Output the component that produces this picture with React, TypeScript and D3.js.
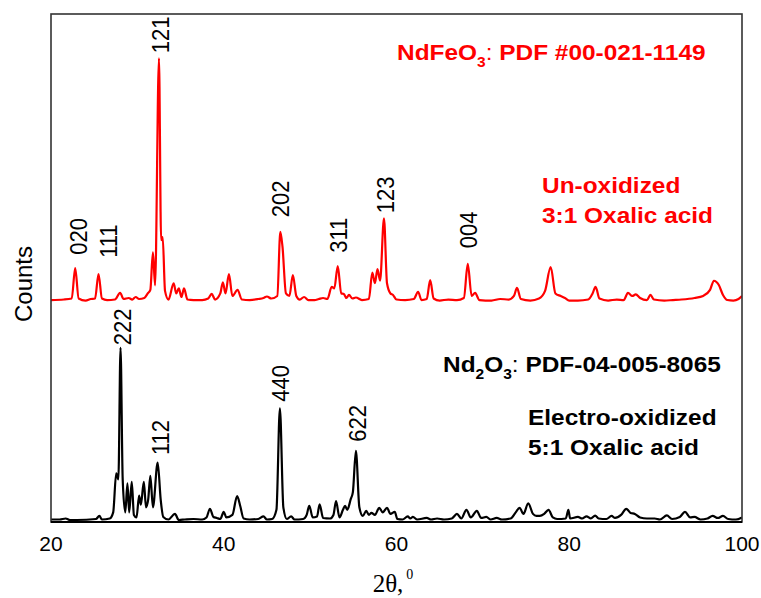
import React from "react";
import * as d3 from "d3";

// ---------- DATA ----------
// Un-oxidized (red) trace: [2θ, intensity above its own baseline]
const redTrace: [number, number][] = [
  [20, 0.2], [21.5, 0.3], [22.4, 0.5], [22.8, 6.5], [23.2, 0.5], [24, 0.1], [24.6, 0.4],
  [25.1, 0.5], [25.5, 5.3], [25.9, 0.5], [26.5, 0.2], [27.4, 0.3], [28.0, 1.6], [28.4, 0.4],
  [29, 0.6], [29.4, 0.3], [29.8, 0.8], [30.2, 0.4], [30.8, 0.6], [31.2, 1.5], [31.5, 2.2],
  [31.8, 9.6], [32.05, 3.1], [32.5, 47.8], [32.75, 12.0], [32.93, 12.6], [33.2, 2], [33.6, 0.3],
  [34.2, 3.5], [34.5, 1.5], [34.8, 2.5], [35.1, 0.8], [35.4, 2.5], [35.8, 0.3], [36.5, 0.2],
  [37.5, 0.2], [38.2, 0.5], [38.6, 1.4], [39.0, 0.3], [39.6, 1.5], [39.9, 3.7], [40.2, 1.5],
  [40.6, 5.3], [41.0, 1.0], [41.6, 2.2], [42.1, 0.3], [43, 0.2], [44, 0.4], [44.6, 0.6],
  [45.0, 0.9], [45.5, 0.5], [46.2, 1.0], [46.55, 13.6], [46.8, 10.7], [47.2, 1.5], [47.6, 1.0],
  [48.0, 5.1], [48.4, 1.0], [48.8, 0.3], [49.3, 0.8], [49.8, 0.2], [50.5, 0.2], [51, 0.4],
  [51.5, 0.6], [52.0, 0.4], [52.5, 2.8], [52.8, 2.5], [53.2, 6.9], [53.6, 1.5], [53.9, 1.4],
  [54.2, 0.6], [54.5, 1.2], [54.9, 0.5], [55.3, 0.7], [56, 0.2], [56.8, 0.4], [57.2, 5.6],
  [57.5, 3.5], [57.8, 6.3], [58.1, 4.0], [58.55, 16.3], [58.9, 3.5], [59.3, 1.5], [59.6, 1.2],
  [60.0, 0.3], [61, 0.2], [62.0, 0.4], [62.5, 1.8], [62.9, 0.2], [63.5, 0.4], [63.9, 4.1],
  [64.3, 0.5], [65, 0.1], [66, 0.3], [67, 0.2], [67.8, 0.6], [68.25, 7.3], [68.7, 1.0],
  [69.1, 1.6], [69.6, 0.2], [71, 0.1], [72, 0.4], [73.0, 0.3], [73.6, 1.0], [73.95, 2.6],
  [74.4, 0.4], [75.5, 0.1], [76.5, 0.5], [77.2, 2.0], [77.85, 6.7], [78.4, 1.5], [79.0, 1.0],
  [79.5, 0.6], [80, 0.1], [81, 0.1], [82.2, 0.3], [82.7, 1.5], [83.05, 2.8], [83.5, 0.5],
  [84.5, 0.1], [85.5, 0.3], [86.3, 0.2], [86.8, 1.6], [87.3, 1.0], [87.7, 1.3], [88.2, 0.6],
  [89, 0.2], [89.4, 1.2], [89.8, 0.3], [91, 0.1], [92, 0.2], [93, 0.3], [94.5, 0.6],
  [95.5, 1.0], [96.3, 2.2], [96.75, 4.0], [97.3, 3.2], [97.8, 1.2], [98.3, 0.2], [99, 0.1],
  [99.6, 0.4], [100, 1.0],
];
const redOffset = 43.1;

// Electro-oxidized (black) trace
const blackTrace: [number, number][] = [
  [20, 0.1], [21.0, 0.1], [21.7, 0.3], [22.2, 0.0], [23, 0], [25.2, 0.2], [25.6, 0.8],
  [25.9, 0.1], [26.8, 0.3], [27.2, 1.5], [27.55, 9.2], [27.8, 8], [28.05, 33.9], [28.3, 8],
  [28.6, 1.5], [28.85, 7.2], [29.05, 1.5], [29.35, 7.5], [29.6, 1.0], [29.9, 0.5], [30.2, 4.8],
  [30.4, 3], [30.75, 7.5], [31.0, 2.5], [31.25, 4], [31.5, 8.7], [31.8, 2.5], [32.35, 11.3],
  [32.7, 4], [33.0, 0.6], [33.6, 0.1], [34.35, 1.2], [34.8, 0], [35.5, 0.1], [36.5, 0.2],
  [37.5, 0.1], [38.0, 0.5], [38.4, 2.2], [38.8, 0.6], [39.2, 0.4], [39.6, 0.2], [40.0, 1.6],
  [40.3, 0.5], [41.0, 1.0], [41.55, 4.7], [41.9, 2.8], [42.3, 0.3], [43, 0.1], [44.0, 0.2],
  [44.6, 0.7], [45.0, 0.1], [45.6, 0.2], [46.1, 2.0], [46.5, 22], [46.9, 2.5], [47.3, 0.2],
  [47.8, 0.7], [48.2, 0.1], [49.2, 0.2], [49.6, 1.0], [49.9, 2.8], [50.3, 0.5], [50.8, 0.7],
  [51.1, 3.1], [51.5, 0.4], [52.3, 0.3], [52.7, 1.0], [53.0, 3.7], [53.4, 0.5], [53.8, 2.0],
  [54.05, 2.8], [54.3, 2.0], [54.7, 4.1], [54.95, 5.5], [55.3, 13.6], [55.7, 2.5], [56.1, 0.8],
  [56.5, 1.8], [56.8, 1.0], [57.1, 1.4], [57.5, 1.0], [58.0, 2.4], [58.4, 1.5], [58.9, 2.4],
  [59.3, 1.2], [59.8, 1.6], [60.1, 0.2], [60.7, 0.1], [61.3, 0.7], [61.6, 0.3], [61.9, 0.6],
  [62.4, 0.1], [63.5, 0.4], [64.0, 0.1], [64.7, 0.3], [65.5, 0.1], [66.4, 0.3], [67.0, 1.2],
  [67.5, 0.3], [68.1, 2.0], [68.6, 0.5], [69.3, 1.8], [69.8, 0.4], [70.4, 0.6], [70.9, 0.1],
  [71.6, 0.4], [72.2, 0.1], [73.2, 0.3], [73.8, 1.5], [74.25, 2.4], [74.7, 1.2], [75.25, 3.3],
  [75.8, 1.2], [76.2, 0.8], [76.6, 0.8], [77.1, 1.2], [77.6, 2.0], [78.1, 0.5], [78.6, 0.2],
  [79.6, 0.3], [79.9, 2.0], [80.1, 0.3], [81.0, 0.6], [81.5, 0.3], [82.0, 0.7], [82.5, 0.3],
  [83.0, 0.85], [83.4, 0.3], [84.3, 0.2], [84.9, 0.8], [85.3, 0.4], [86.0, 1.0], [86.6, 2.2],
  [87.1, 1.4], [87.6, 1.2], [88.2, 0.5], [89.0, 0.3], [89.9, 0.3], [90.5, 0.1], [91.3, 0.9],
  [91.9, 0.2], [92.8, 0.6], [93.4, 1.6], [94.0, 0.5], [94.5, 0.6], [95.2, 0.1], [96.0, 0.3],
  [96.6, 0.8], [97.2, 0.4], [97.8, 0.8], [98.4, 0.2], [99.3, 0.1], [100, 0.5],
];
const blackOffset = 0;

// Peak (hkl) labels: text, 2θ of label centre, count level of label bottom
const redLabels = ["020", "111", "121", "202", "311", "123", "004"];
const redLabelX = [23.16, 26.6, 32.62, 46.5, 53.2, 58.67, 68.28];
const redLabelY = [52.2, 51.6, 91.9, 59.6, 52.6, 60.4, 53.5];

const blackLabels = ["222", "112", "440", "622"];
const blackLabelX = [28.2, 32.7, 46.5, 55.4];
const blackLabelY = [34.4, 12.8, 23.3, 15.4];

const xTicks = [20, 40, 60, 80, 100];

// ---------- CHART ----------
const W = 761;
const H = 598;
const left = 51, right = 742, top = 14, bottom = 522;
const SX = 1.11; // horizontal stretch of the original figure's text

export default function App() {
  const x = d3.scaleLinear().domain([20, 100]).range([left, right]);
  const y = d3.scaleLinear().domain([0, 100]).range([520, 12]);

  const line = (off: number) =>
    d3
      .line<[number, number]>()
      .x((d) => x(d[0]))
      .y((d) => y(d[1] + off))
      .curve(d3.curveMonotoneX);

  const sans = "'Liberation Sans', Arial, Helvetica, sans-serif";
  const serif = "'Liberation Serif', 'Times New Roman', serif";

  const peakLabel = (t: string, px: number, py: number, key: string) => (
    <text
      key={key}
      transform={`translate(${x(px)},${y(py)}) scale(${SX},1) rotate(-90)`}
      dy="0.36em"
      fontFamily={sans}
      fontSize={22}
      fill="#000"
    >
      {t}
    </text>
  );

  return (
    <div style={{ position: "fixed", left: 0, top: 0, width: W, height: H, background: "#fff" }}>
      <svg width={W} height={H} viewBox={`0 0 ${W} ${H}`}>
        <rect x={0} y={0} width={W} height={H} fill="#fff" />
        <defs>
          <clipPath id="plotclip">
            <rect x={left} y={0} width={right - left} height={bottom} />
          </clipPath>
        </defs>

        <g clipPath="url(#plotclip)">
          <path d={line(redOffset)(redTrace) || ""} fill="none" stroke="#ff0000" strokeWidth={2.2} strokeLinejoin="round" />
          <path d={line(blackOffset)(blackTrace) || ""} fill="none" stroke="#000" strokeWidth={2.2} strokeLinejoin="round" />
        </g>

        {/* frame */}
        <rect x={left} y={top} width={right - left} height={bottom - top} fill="none" stroke="#333" strokeWidth={1.6} />
        <line x1={left} x2={right} y1={bottom} y2={bottom} stroke="#000" strokeWidth={2.2} />

        {/* x tick labels */}
        {xTicks.map((t) => (
          <text key={t} x={x(t)} y={551} textAnchor="middle" fontFamily={sans} fontSize={21} fill="#000">
            {t}
          </text>
        ))}

        {/* axis titles */}
        <text x={393} y={592} textAnchor="middle" fontFamily={serif} fontSize={25} fill="#000">
          2θ,<tspan fontSize={14} dy={-13} dx={3}>0</tspan>
        </text>
        <text transform="translate(32,284) rotate(-90)" textAnchor="middle" fontFamily={sans} fontSize={24} fill="#000">
          Counts
        </text>

        {/* peak labels */}
        {redLabels.map((t, i) => peakLabel(t, redLabelX[i], redLabelY[i], "r" + i))}
        {blackLabels.map((t, i) => peakLabel(t, blackLabelX[i], blackLabelY[i], "b" + i))}

        {/* red annotations */}
        <g fontFamily={sans} fontWeight="bold" fontSize={22} fill="#ff0000">
          <text transform={`translate(397,60) scale(${SX},1)`}>
            NdFeO<tspan fontSize={14} dy={7}>3</tspan>
            <tspan dy={-7} fontWeight="normal">:</tspan> PDF #00-021-1149
          </text>
          <text transform={`translate(542,193) scale(${SX},1)`}>Un-oxidized</text>
          <text transform={`translate(542,223) scale(${SX},1)`}>3:1 Oxalic acid</text>
        </g>

        {/* black annotations */}
        <g fontFamily={sans} fontWeight="bold" fontSize={22} fill="#000">
          <text transform={`translate(443,372) scale(${SX},1)`}>
            Nd<tspan fontSize={14} dy={7}>2</tspan>
            <tspan dy={-7}>O</tspan>
            <tspan fontSize={14} dy={7}>3</tspan>
            <tspan dy={-7} fontWeight="normal">:</tspan> PDF-04-005-8065
          </text>
          <text transform={`translate(528,425) scale(${SX},1)`}>Electro-oxidized</text>
          <text transform={`translate(528,455) scale(${SX},1)`}>5:1 Oxalic acid</text>
        </g>
      </svg>
    </div>
  );
}
